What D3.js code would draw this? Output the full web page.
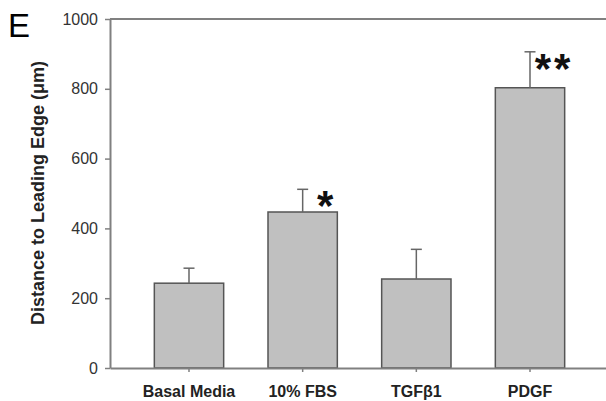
<!DOCTYPE html>
<html>
<head>
<meta charset="utf-8">
<script src="https://cdn.jsdelivr.net/npm/d3@7"></script>
<style>
  body { margin: 0; background: #fff; }
  svg { display: block; font-family: Arial, "Liberation Sans", sans-serif; }
</style>
</head>
<body>
<div id="chart"></div>
<script>
const categories = ["Basal Media", "10% FBS", "TGF\u03B21", "PDGF"];
const means = [243, 447, 255, 803];
const errors = [43, 65, 85, 103];
const stars = ["", "*", "", "**"];
const yTicks = [0, 200, 400, 600, 800, 1000];

const width = 606, height = 401;
const svg = d3.select("#chart").append("svg")
  .attr("width", width)
  .attr("height", height);

const x = d3.scaleBand()
  .domain(categories)
  .range([110, 609])
  .paddingInner(0.39)
  .paddingOuter(0.39);

const y = d3.scaleLinear()
  .domain([0, 1000])
  .range([368, 19]);

// frame top
svg.append("line")
  .attr("x1", 110).attr("x2", width)
  .attr("y1", y(1000)).attr("y2", y(1000))
  .attr("stroke", "#808080").attr("stroke-width", 2);

// bars
svg.append("g")
  .selectAll("rect")
  .data(categories)
  .join("rect")
  .attr("x", d => x(d))
  .attr("y", (d, i) => y(means[i]))
  .attr("width", x.bandwidth())
  .attr("height", (d, i) => y(0) - y(means[i]))
  .attr("fill", "#c0c0c0")
  .attr("stroke", "#555")
  .attr("stroke-width", 1.5);

// error bars (upper only)
const eb = svg.append("g").attr("stroke", "#666").attr("stroke-width", 1.5);
eb.selectAll("line.v")
  .data(categories)
  .join("line")
  .attr("class", "v")
  .attr("x1", d => x(d) + x.bandwidth() / 2)
  .attr("x2", d => x(d) + x.bandwidth() / 2)
  .attr("y1", (d, i) => y(means[i]))
  .attr("y2", (d, i) => y(means[i] + errors[i]));
eb.selectAll("line.c")
  .data(categories)
  .join("line")
  .attr("class", "c")
  .attr("x1", d => x(d) + x.bandwidth() / 2 - 5.5)
  .attr("x2", d => x(d) + x.bandwidth() / 2 + 5.5)
  .attr("y1", (d, i) => y(means[i] + errors[i]))
  .attr("y2", (d, i) => y(means[i] + errors[i]));

// significance marks
svg.append("g")
  .selectAll("text")
  .data(categories)
  .join("text")
  .attr("x", d => x(d) + x.bandwidth() / 2 + 24)
  .attr("y", (d, i) => y(means[i] + errors[i]) + 31)
  .attr("text-anchor", "middle")
  .attr("font-size", 42)
  .attr("font-weight", "bold")
  .attr("letter-spacing", 3)
  .attr("fill", "#111")
  .text((d, i) => stars[i]);

// y axis
const yAxis = svg.append("g")
  .attr("transform", "translate(110,0)")
  .call(d3.axisLeft(y).tickValues(yTicks).tickFormat(d3.format("d"))
    .tickSize(5).tickPadding(7).tickSizeOuter(0));
yAxis.select(".domain").attr("stroke", "#808080").attr("stroke-width", 2);
yAxis.selectAll(".tick line").attr("stroke", "#808080").attr("stroke-width", 1.5);
yAxis.selectAll(".tick text").attr("font-size", 16).attr("fill", "#333");

// x axis
const xAxis = svg.append("g")
  .attr("transform", `translate(0,${y(0)})`)
  .call(d3.axisBottom(x).tickSize(4).tickPadding(14).tickSizeOuter(0));
xAxis.select(".domain").attr("stroke", "#808080").attr("stroke-width", 2);
xAxis.selectAll(".tick line").attr("stroke", "#808080").attr("stroke-width", 1.5);
xAxis.selectAll(".tick text").attr("font-size", 16).attr("font-weight", "bold").attr("fill", "#222");

// y title
svg.append("text")
  .attr("transform", "translate(44,193) rotate(-90)")
  .attr("text-anchor", "middle")
  .attr("font-size", 18)
  .attr("font-weight", "bold")
  .attr("fill", "#222")
  .text("Distance to Leading Edge (\u03BCm)");

// panel letter
svg.append("text")
  .attr("x", 8).attr("y", 37)
  .attr("font-size", 33)
  .attr("fill", "#000")
  .text("E");
</script>
</body>
</html>
